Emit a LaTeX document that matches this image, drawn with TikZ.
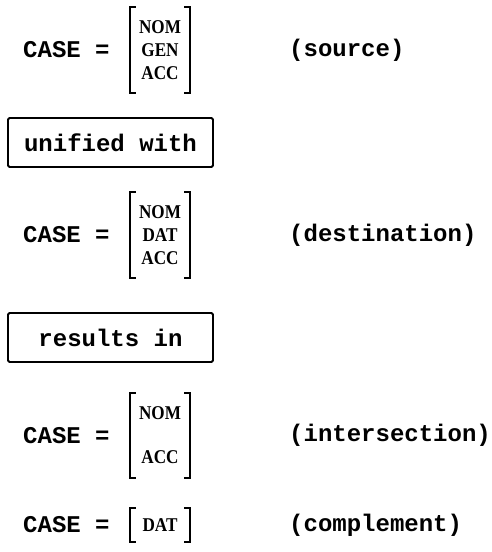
\documentclass[tikz,border=0pt]{standalone}
\usepackage{fontspec}
\setmainfont{Liberation Serif}
\setmonofont{Liberation Mono}
\newfontfamily\casefont[FakeStretch=0.88]{Liberation Serif}
\begin{document}
\begin{tikzpicture}[x=1pt,y=-1pt,
  tt/.style={font=\fontsize{24}{24}\selectfont\ttfamily\bfseries, inner sep=0pt},
  vals/.style={font=\fontsize{19.5}{23}\selectfont\casefont\bfseries, align=center, minimum width=60pt, inner sep=0pt},
  brk/.style={line width=1.7pt},
  boxed/.style={tt, draw, line width=1.8pt, rounded corners=1.5pt, minimum width=205pt, minimum height=49pt}]

\useasboundingbox (0,0) rectangle (492,552);

% source
\node[tt, anchor=west] (case1) at (23,50) {CASE =};
\node[vals, minimum height=85pt] (v1) at (160,50) {NOM\\GEN\\ACC};
\node[tt, anchor=west] (src) at (289,50) {(source)};

\node[boxed] (unif) at (110.5,142.5) {unified with};

% destination
\node[tt, anchor=west] (case2) at (23,235) {CASE =};
\node[vals, minimum height=85pt] (v2) at (160,235) {NOM\\DAT\\ACC};
\node[tt, anchor=west] (dst) at (289,235) {(destination)};

\node[boxed] (res) at (110.5,337.5) {results in};

% intersection
\node[tt, anchor=west] (case3) at (23,435.5) {CASE =};
\node[vals, minimum height=85pt] (v3) at (160,435.5) {NOM\\[21pt]ACC};
\node[tt, anchor=west] (isec) at (289,435.5) {(intersection)};

% complement
\node[tt, anchor=west] (case4) at (23,525) {CASE =};
\node[vals, minimum height=34pt] (v4) at (160,525) {DAT};
\node[tt, anchor=west] (comp) at (289,525) {(complement)};

\foreach \v in {v1,v2,v3,v4} {
  \draw[brk] ([xshift=6pt]\v.north west) -- (\v.north west) -- (\v.south west) -- ([xshift=6pt]\v.south west);
  \draw[brk] ([xshift=-6pt]\v.north east) -- (\v.north east) -- (\v.south east) -- ([xshift=-6pt]\v.south east);
}

\end{tikzpicture}
\end{document}
